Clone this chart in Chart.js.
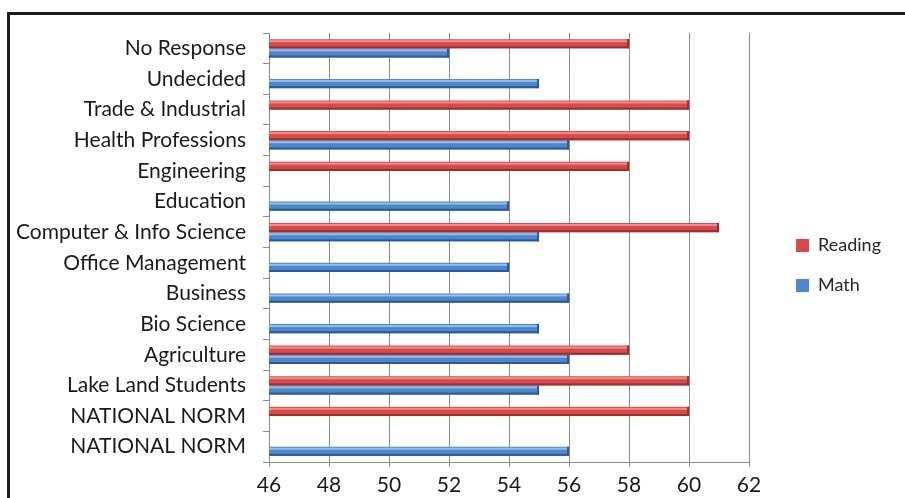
<!DOCTYPE html>
<html>
<head>
<meta charset="utf-8">
<title>Reading and Math scores by program</title>
<script src="https://cdn.jsdelivr.net/npm/chart.js@4.4.1/dist/chart.umd.min.js"></script>
<style>
  html, body { margin: 0; padding: 0; background: #fff; overflow: hidden; }
  #frame { position: absolute; left: 7px; top: 12px; width: 1000px; height: 600px;
           border-top: 3px solid #1e1e1e; border-left: 3px solid #1e1e1e; }
  #chart-box { position: absolute; left: 10px; top: 15px; width: 895px; height: 483px; }
</style>
</head>
<body>
<div id="frame"></div>
<div id="chart-box"><canvas id="scores-chart"></canvas></div>
<script>
// data (top to bottom)
const programs = [
  "No Response", "Undecided", "Trade & Industrial", "Health Professions",
  "Engineering", "Education", "Computer & Info Science", "Office Management",
  "Business", "Bio Science", "Agriculture", "Lake Land Students",
  "NATIONAL NORM", "NATIONAL NORM"
];
const readingScores = [58, null, 60, 60, 58, null, 61, null, null, null, 58, 60, 60, null];
const mathScores    = [52, 55, null, 56, null, 54, 55, 54, 56, 55, 56, 55, null, 56];
const scoreTicks = [46, 48, 50, 52, 54, 56, 58, 60, 62];

const labelFont = { family: "Lato", size: 21 };
const legendFont = { family: "Lato", size: 18 };
const gridGray = "#8a8a8a";

// light stripe on top + dark edge at bottom to fake the bevelled bars
const barShine = {
  id: "barShine",
  afterDatasetsDraw(chart) {
    const ctx = chart.ctx;
    const area = chart.chartArea;
    const shades = [
      { light: "rgba(255,200,198,0.55)", dark: "#9a2f2f" },
      { light: "rgba(200,225,250,0.6)", dark: "#2d5a92" }
    ];
    chart.data.datasets.forEach((ds, i) => {
      const meta = chart.getDatasetMeta(i);
      meta.data.forEach((bar, j) => {
        if (ds.data[j] === null) return;
        const top = bar.y - bar.height / 2;
        const left = Math.max(Math.min(bar.base, bar.x), area.left);
        const w = Math.max(bar.base, bar.x) - left;
        ctx.save();
        ctx.fillStyle = shades[i].light;
        ctx.fillRect(left, top + 1, w, 2);
        ctx.fillStyle = shades[i].dark;
        ctx.fillRect(left, top + bar.height - 2, w, 2);
        ctx.fillRect(left + w - 2, top, 2, bar.height);
        ctx.restore();
      });
    });
  }
};

const ctx = document.getElementById("scores-chart").getContext("2d");

new Chart(ctx, {
  type: "bar",
  data: {
    labels: programs,
    datasets: [
      {
        label: "Reading",
        data: readingScores,
        backgroundColor: "#d84a49",
        borderWidth: 0,
        categoryPercentage: 0.6,
        barPercentage: 1.0
      },
      {
        label: "Math",
        data: mathScores,
        backgroundColor: "#4e88cc",
        borderWidth: 0,
        categoryPercentage: 0.6,
        barPercentage: 1.0
      }
    ]
  },
  options: {
    indexAxis: "y",
    responsive: true,
    maintainAspectRatio: false,
    animation: false,
    layout: { padding: { top: 18, right: 14, left: 0, bottom: 0 } },
    plugins: {
      tooltip: { enabled: false },
      legend: {
        position: "right",
        labels: {
          font: legendFont,
          color: "#262626",
          boxWidth: 13,
          boxHeight: 13,
          padding: 22
        }
      }
    },
    scales: {
      x: {
        min: scoreTicks[0],
        max: scoreTicks[scoreTicks.length - 1],
        afterBuildTicks: (scale) => {
          scale.ticks = scoreTicks.map(v => ({ value: v }));
        },
        afterFit: (scale) => { scale.height = 36; },
        grid: { color: gridGray, tickLength: 5, tickColor: gridGray },
        border: { color: gridGray },
        ticks: { font: labelFont, color: "#1a1a1a", padding: 6, maxRotation: 0 }
      },
      y: {
        afterFit: (scale) => {
          scale.width = 259;
          scale.paddingTop = 0;
          scale.paddingBottom = 0;
        },
        grid: { drawOnChartArea: false, tickLength: 6, color: gridGray },
        border: { color: gridGray },
        ticks: { font: labelFont, color: "#1a1a1a", padding: 17 }
      },
      // empty axis, only used to leave room between the bars and the legend
      gap: {
        type: "linear",
        position: "right",
        display: true,
        grid: { display: false },
        border: { display: false },
        ticks: { display: false },
        afterFit: (scale) => { scale.width = 25; }
      }
    }
  },
  plugins: [barShine]
});
</script>
</body>
</html>
